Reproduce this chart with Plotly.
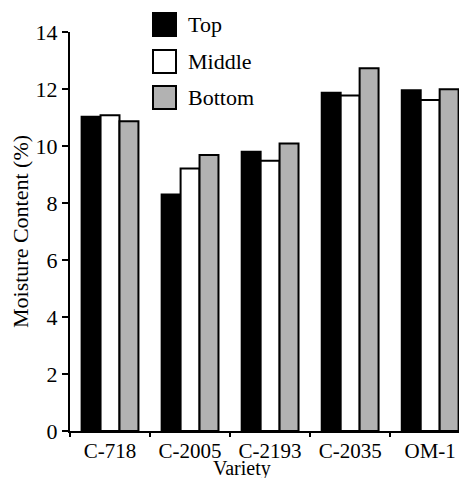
import plotly.graph_objects as go

categories = ["C-718", "C-2005", "C-2193", "C-2035", "OM-1"]
top = [11.03, 8.30, 9.80, 11.87, 11.96]
middle = [11.08, 9.21, 9.48, 11.77, 11.61]
bottom = [10.87, 9.68, 10.09, 12.73, 11.99]
series_names = ["Top", "Middle", "Bottom"]
series_colors = ["#000000", "#ffffff", "#b2b2b2"]
y_ticks = [0, 2, 4, 6, 8, 10, 12, 14]

FONT = "Liberation Serif, Times New Roman, Times, serif"
W, H = 460, 478
ML, MR, MT, MB = 70, 1, 32, 47
PW, PH = W - ML - MR, H - MT - MB


def px_x(p):
    return (p - ML) / PW


def px_y(p):
    return (H - MB - p) / PH


fig = go.Figure()
for name, vals, col in zip(series_names, [top, middle, bottom], series_colors):
    fig.add_trace(go.Bar(
        x=categories, y=vals, name=name,
        marker=dict(color=col, line=dict(color="#000000", width=2)),
        showlegend=False,
    ))

# legend drawn as squares + labels (sized like the reference)
legend_rows = [(13, 36), (50, 73), (86, 109)]
shapes, annotations = [], []
for (y0, y1), name, col in zip(legend_rows, series_names, series_colors):
    shapes.append(dict(type="rect", xref="paper", yref="paper",
                       x0=px_x(153), x1=px_x(176), y0=px_y(y1), y1=px_y(y0),
                       fillcolor=col, line=dict(color="#000000", width=2)))
    annotations.append(dict(xref="paper", yref="paper", x=px_x(186), y=px_y((y0 + y1) / 2),
                            xanchor="left", yanchor="middle", text=name, showarrow=False,
                            font=dict(family=FONT, size=22, color="#000000")))

# x-axis title
annotations.append(dict(xref="paper", yref="paper", x=px_x(242), y=px_y(468),
                        xanchor="center", yanchor="middle", text="Variety", showarrow=False,
                        borderpad=0,
                        font=dict(family=FONT, size=20, color="#000000")))

fig.update_layout(
    width=W, height=H,
    margin=dict(l=ML, r=MR, t=MT, b=MB, autoexpand=False),
    paper_bgcolor="white", plot_bgcolor="white",
    barmode="group", bargap=0.29, bargroupgap=0,
    font=dict(family=FONT, size=22, color="#000000"),
    showlegend=False,
    shapes=shapes, annotations=annotations,
    xaxis=dict(range=[-0.5, 4.36], showline=True, linecolor="#000000", linewidth=2,
               ticks="outside", tickson="boundaries", ticklen=4, tickcolor="#000000", tickwidth=2,
               tickfont=dict(family=FONT, size=21), showgrid=False, zeroline=False, automargin=False),
    yaxis=dict(range=[0, 14], tickvals=y_ticks, showline=True, linecolor="#000000", linewidth=2,
               ticks="outside", ticklen=6, tickcolor="#000000", tickwidth=2,
               title=dict(text="Moisture Content (%)", standoff=1, font=dict(family=FONT, size=22)),
               tickfont=dict(family=FONT, size=22), showgrid=False, zeroline=False, automargin=False),
)

fig.write_html("out.html", config={"displayModeBar": False},
               post_script="document.body.style.margin='0px';")
